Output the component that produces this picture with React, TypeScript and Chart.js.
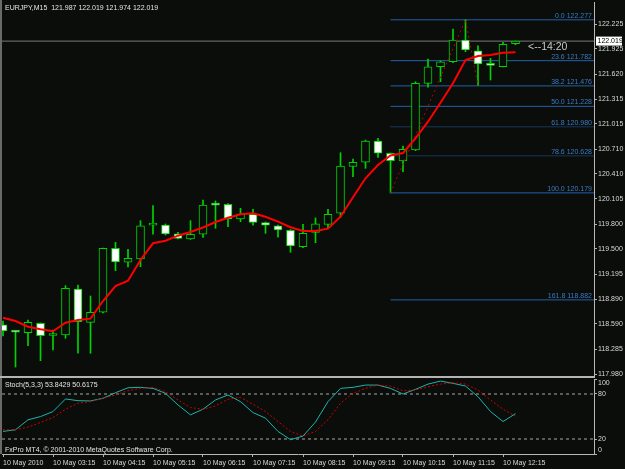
import React, { useEffect, useRef } from 'react';
import { Chart, registerables } from 'chart.js';

Chart.register(...registerables);

// ---------- data ----------
const symbolTitle = 'EURJPY,M15  121.987 122.019 121.974 122.019';
const stochTitle = 'Stoch(5,3,3) 53.8429 50.6175';
const copyrightText = 'FxPro MT4, \u00a9 2001-2010 MetaQuotes Software Corp.';
const countdownText = '<--14:20';

const opens = [
  118.578, 118.495, 118.484, 118.598, 118.45, 118.456, 119.014, 118.61, 118.732, 119.507,
  119.338, 119.378, 119.788, 119.79, 119.684, 119.62, 119.677, 120.034, 120.041, 119.862,
  119.919, 119.818, 119.781, 119.725, 119.527, 119.701, 119.798, 119.932, 120.501, 120.55,
  120.808, 120.659, 120.565, 120.699, 121.507, 121.708, 121.769, 122.032, 121.902, 121.75,
  121.708, 121.987,
];
const highs = [
  118.626, 118.505, 118.638, 118.602, 118.517, 119.054, 119.062, 118.929, 119.511, 119.58,
  119.495, 119.842, 120.024, 119.802, 119.701, 119.842, 120.093, 120.081, 120.05, 119.992,
  119.98, 119.826, 119.79, 119.735, 119.798, 119.875, 119.98, 120.666, 120.59, 120.82,
  120.841, 120.662, 120.747, 121.527, 121.802, 121.778, 122.165, 122.277, 121.963, 121.81,
  122.004, 122.019,
];
const lows = [
  118.444, 118.068, 118.327, 118.145, 118.275, 118.416, 118.235, 118.235, 118.723, 119.236,
  119.281, 119.284, 119.677, 119.669, 119.62, 119.614, 119.638, 119.75, 119.769, 119.83,
  119.786, 119.689, 119.641, 119.459, 119.514, 119.575, 119.75, 119.883, 120.375, 120.477,
  120.61, 120.179, 120.436, 120.691, 121.459, 121.527, 121.759, 121.89, 121.478, 121.547,
  121.705, 121.974,
];
const closes = [
  118.505, 118.491, 118.61, 118.448, 118.462, 119.022, 118.618, 118.732, 119.507, 119.341,
  119.386, 119.778, 119.792, 119.681, 119.628, 119.677, 120.032, 120.03, 119.862, 119.923,
  119.822, 119.786, 119.729, 119.535, 119.689, 119.805, 119.919, 120.505, 120.55, 120.808,
  120.659, 120.569, 120.707, 121.507, 121.708, 121.769, 122.032, 121.911, 121.741, 121.725,
  121.98, 122.019,
];
const maValues = [
  118.666, 118.626, 118.557, 118.525, 118.501, 118.605, 118.638, 118.654, 118.868, 119.05,
  119.115, 119.365, 119.568, 119.599, 119.66, 119.705, 119.759, 119.826, 119.878, 119.919,
  119.932, 119.89, 119.83, 119.762, 119.717, 119.717, 119.745, 119.89, 120.125, 120.356,
  120.517, 120.632, 120.662, 120.841, 121.042, 121.272, 121.507, 121.79, 121.838, 121.85,
  121.878, 121.883,
];
const stochMain = [
  30.1, 32.3, 45.6, 49.9, 56.6, 73.4, 71.1, 70.7, 74.3, 81.7,
  88.3, 88.9, 87.5, 80.9, 65.4, 52.2, 59.7, 72.1, 78.7, 69.8,
  55.2, 47.8, 30.1, 19.1, 23.9, 42.6, 69.8, 87.5, 88.9, 91.9,
  91.9, 87.5, 80.0, 86.2, 93.2, 97.2, 94.2, 90.6, 76.4, 56.6,
  43.3, 53.8,
];
const stochSignal = [
  32.3, 32.3, 35.9, 42.0, 48.6, 59.7, 67.7, 69.8, 74.3, 78.7,
  84.4, 87.5, 88.9, 83.0, 72.1, 61.9, 59.7, 64.1, 73.0, 75.6,
  66.4, 56.6, 43.3, 30.1, 23.9, 30.1, 45.6, 67.7, 80.9, 87.5,
  91.9, 90.6, 84.4, 85.3, 89.7, 93.2, 95.0, 93.2, 85.3, 72.1,
  59.7, 50.6,
];
const priceTicks = [
  122.225, 121.925, 121.62, 121.315, 121.015, 120.71, 120.41, 120.105,
  119.8, 119.5, 119.195, 118.89, 118.59, 118.285, 117.98,
];
const timeTickBars = [0, 4, 8, 12, 16, 20, 24, 28, 32, 36, 40];
const timeTickLabels = [
  '10 May 2010', '10 May 03:15', '10 May 04:15', '10 May 05:15', '10 May 06:15',
  '10 May 07:15', '10 May 08:15', '10 May 09:15', '10 May 10:15', '10 May 11:15', '10 May 12:15',
];
const fibRatios = ['0.0', '23.6', '38.2', '50.0', '61.8', '78.6', '100.0', '161.8'];
const fibPrices = [122.277, 121.782, 121.476, 121.228, 120.98, 120.628, 120.179, 118.882];
const fibStartBar = 31;
const zigzagBars = [31, 37, 38];
const zigzagPrices = [120.179, 122.277, 121.478];
const bidPrice = 122.019;
const stochLevels = [80, 20];
const stochAxisLabels = [100, 80, 20, 0];

// ---------- styles ----------
const BG = '#0a0d0a';
const GREEN = '#00d400';
const FIB_LINE = '#2360a8';
const FIB_TEXT = '#3a7cc8';
const FONT = '"Liberation Sans", Arial, sans-serif';
const fibDotted = [false, false, false, false, true, true, false, false];
const X_MIN = -0.08;
const X_MAX = 47.28;
const Y_MIN = 117.959;
const Y_MAX = 122.493;

const mainDecor = {
  id: 'mainDecor',
  beforeDraw(chart: any) {
    const { ctx, width, height } = chart;
    ctx.save();
    ctx.fillStyle = BG;
    ctx.fillRect(0, 0, width, height);
    ctx.restore();
  },
  afterDraw(chart: any) {
    const { ctx, chartArea } = chart;
    const xs = chart.scales.x;
    const ys = chart.scales.y;
    ctx.save();
    ctx.fillStyle = '#6a6a6a';
    ctx.fillRect(0, 0, 2, chart.height);

    ctx.font = `7px ${FONT}`;
    ctx.fillStyle = '#e4e4e4';
    ctx.textAlign = 'left';
    ctx.textBaseline = 'middle';
    ctx.fillText(symbolTitle, 5, 8);

    ctx.fillStyle = FIB_TEXT;
    ctx.textAlign = 'right';
    ctx.textBaseline = 'alphabetic';
    fibPrices.forEach((p, k) => {
      ctx.fillText(`${fibRatios[k]} ${p.toFixed(3)}`, chartArea.right - 2, ys.getPixelForValue(p) - 2);
    });

    const by = ys.getPixelForValue(bidPrice);
    ctx.font = `10.5px ${FONT}`;
    ctx.fillStyle = '#c8c8c8';
    ctx.textAlign = 'left';
    ctx.textBaseline = 'middle';
    ctx.fillText(countdownText, xs.getPixelForValue(opens.length - 1) + 12.5, by + 6);

    ctx.fillStyle = '#ffffff';
    ctx.fillRect(chartArea.right + 2, by - 4.5, 26, 9);
    ctx.fillStyle = '#000000';
    ctx.font = `7px ${FONT}`;
    ctx.fillText(bidPrice.toFixed(3), chartArea.right + 3.5, by);
    ctx.restore();
  },
};

const stochDecor = {
  id: 'stochDecor',
  beforeDraw(chart: any) {
    const { ctx, width, height } = chart;
    ctx.save();
    ctx.fillStyle = BG;
    ctx.fillRect(0, 0, width, height);
    ctx.restore();
  },
  afterDraw(chart: any) {
    const { ctx, chartArea } = chart;
    const ys = chart.scales.y;
    ctx.save();
    ctx.fillStyle = '#b4b4b4';
    ctx.fillRect(0, 0, chartArea.right + 1, 2);
    ctx.fillStyle = '#6a6a6a';
    ctx.fillRect(0, 2, 2, chartArea.bottom - 2);

    ctx.font = `7px ${FONT}`;
    ctx.fillStyle = '#e4e4e4';
    ctx.textAlign = 'left';
    ctx.textBaseline = 'middle';
    ctx.fillText(stochTitle, 5, ys.getPixelForValue(100) + 6.5);
    ctx.fillText(copyrightText, 5, ys.getPixelForValue(0) - 4);

    ctx.fillStyle = '#d8d8d8';
    stochAxisLabels.forEach((v) => {
      const off = v === 100 ? 4 : v === 0 ? -4 : 0;
      ctx.fillText(String(v), chartArea.right + 4, ys.getPixelForValue(v) + off);
    });
    ctx.restore();
  },
};

export default function App() {
  const mainRef = useRef<HTMLCanvasElement>(null);
  const stochRef = useRef<HTMLCanvasElement>(null);

  useEffect(() => {
    Chart.defaults.font.family = FONT;

    const bodyData = opens.map((o, i) => ({ x: i, y: [o, closes[i]] }));
    const wickData = lows.map((l, i) => ({ x: i, y: [l, highs[i]] }));
    const bodyFill = opens.map((o, i) => (closes[i] >= o ? BG : '#ffffff'));

    const datasets: any[] = [
      {
        type: 'line',
        label: 'zigzag',
        data: zigzagBars.map((b, k) => ({ x: b, y: zigzagPrices[k] })),
        borderColor: '#c00000',
        borderWidth: 1,
        borderDash: [2, 3],
        pointRadius: 0,
        order: 0,
      },
      {
        type: 'line',
        label: 'MA',
        data: maValues.map((v, i) => ({ x: i, y: v })),
        borderColor: '#ff0000',
        borderWidth: 2,
        pointRadius: 0,
        tension: 0,
        order: 1,
      },
      {
        type: 'bar',
        label: 'bodies',
        data: bodyData,
        backgroundColor: bodyFill,
        borderColor: GREEN,
        borderWidth: 1,
        borderSkipped: false,
        barThickness: 8,
        minBarLength: 2,
        grouped: false,
        order: 2,
      },
      {
        type: 'bar',
        label: 'wicks',
        data: wickData,
        backgroundColor: GREEN,
        borderWidth: 0,
        barThickness: 1,
        grouped: false,
        order: 3,
      },
      ...fibPrices.map((p, k) => ({
        type: 'line',
        label: `fib ${fibRatios[k]}`,
        data: [
          { x: fibStartBar, y: p },
          { x: X_MAX, y: p },
        ],
        borderColor: FIB_LINE,
        borderWidth: 1,
        borderDash: fibDotted[k] ? [1, 1] : [],
        pointRadius: 0,
        order: 4,
      })),
      {
        type: 'line',
        label: 'bid',
        data: [
          { x: X_MIN, y: bidPrice },
          { x: X_MAX, y: bidPrice },
        ],
        borderColor: '#7a7a7a',
        borderWidth: 1,
        pointRadius: 0,
        order: 5,
      },
    ];

    const main = new Chart(mainRef.current!, {
      type: 'bar',
      data: { datasets },
      options: {
        animation: false,
        responsive: false,
        devicePixelRatio: 1,
        layout: { padding: { left: 2, top: 2, right: 0, bottom: 0 } },
        plugins: { legend: { display: false }, tooltip: { enabled: false } },
        scales: {
          x: {
            type: 'linear',
            min: X_MIN,
            max: X_MAX,
            offset: false,
            display: false,
            grid: { offset: false },
          },
          y: {
            type: 'linear',
            position: 'right',
            min: Y_MIN,
            max: Y_MAX,
            afterBuildTicks: (scale: any) => {
              scale.ticks = priceTicks.map((v) => ({ value: v }));
            },
            afterFit: (scale: any) => {
              scale.width = 31;
              scale.paddingTop = 0;
              scale.paddingBottom = 0;
            },
            ticks: {
              color: '#d8d8d8',
              font: { size: 7, family: FONT },
              padding: 1,
              callback: (v: any) => Number(v).toFixed(3),
            },
            grid: {
              display: true,
              drawOnChartArea: false,
              drawTicks: true,
              tickLength: 3,
              color: '#b0b0b0',
            },
            border: { display: true, color: '#b8b8b8', width: 1 },
          },
        },
      } as any,
      plugins: [mainDecor],
    });

    const stoch = new Chart(stochRef.current!, {
      type: 'line',
      data: {
        datasets: [
          {
            label: 'signal',
            data: stochSignal.map((v, i) => ({ x: i, y: v })),
            borderColor: '#d00000',
            borderWidth: 1,
            borderDash: [2, 2],
            pointRadius: 0,
            order: 0,
          },
          {
            label: 'main',
            data: stochMain.map((v, i) => ({ x: i, y: v })),
            borderColor: '#20b2aa',
            borderWidth: 1,
            pointRadius: 0,
            order: 1,
          },
          ...stochLevels.map((lv) => ({
            label: `level ${lv}`,
            data: [
              { x: X_MIN, y: lv },
              { x: X_MAX, y: lv },
            ],
            borderColor: '#a8a8a8',
            borderWidth: 1,
            borderDash: [3, 3],
            pointRadius: 0,
            order: 2,
          })),
        ],
      },
      options: {
        animation: false,
        responsive: false,
        devicePixelRatio: 1,
        layout: { padding: { left: 2, top: 3, right: 0, bottom: 0 } },
        plugins: { legend: { display: false }, tooltip: { enabled: false } },
        scales: {
          x: {
            type: 'linear',
            min: X_MIN,
            max: X_MAX,
            offset: false,
            afterBuildTicks: (scale: any) => {
              scale.ticks = timeTickBars.map((v) => ({ value: v }));
            },
            afterFit: (scale: any) => {
              scale.height = 15;
              scale.paddingLeft = 0;
              scale.paddingRight = 0;
            },
            ticks: {
              align: 'start',
              autoSkip: false,
              maxRotation: 0,
              minRotation: 0,
              color: '#d8d8d8',
              font: { size: 7, family: FONT },
              padding: 2,
              callback: (v: any) => timeTickLabels[timeTickBars.indexOf(Number(v))] ?? '',
            },
            grid: {
              display: true,
              drawOnChartArea: false,
              drawTicks: true,
              tickLength: 3,
              color: '#b0b0b0',
            },
            border: { display: true, color: '#b8b8b8', width: 1 },
          },
          y: {
            type: 'linear',
            position: 'right',
            min: 0,
            max: 100,
            afterBuildTicks: (scale: any) => {
              scale.ticks = stochAxisLabels.map((v) => ({ value: v }));
            },
            afterFit: (scale: any) => {
              scale.width = 31;
              scale.paddingTop = 0;
              scale.paddingBottom = 0;
            },
            ticks: { display: false },
            grid: {
              display: true,
              drawOnChartArea: false,
              drawTicks: true,
              tickLength: 3,
              color: '#b0b0b0',
            },
            border: { display: true, color: '#b8b8b8', width: 1 },
          },
        },
      } as any,
      plugins: [stochDecor],
    });

    return () => {
      main.destroy();
      stoch.destroy();
    };
  }, []);

  return (
    <div
      style={{
        position: 'fixed',
        left: 0,
        top: 0,
        width: 625,
        height: 469,
        background: BG,
        overflow: 'hidden',
      }}
    >
      <canvas
        ref={mainRef}
        width={625}
        height={376}
        style={{ position: 'absolute', left: 0, top: 0, width: 625, height: 376 }}
      />
      <canvas
        ref={stochRef}
        width={625}
        height={93}
        style={{ position: 'absolute', left: 0, top: 376, width: 625, height: 93 }}
      />
    </div>
  );
}
